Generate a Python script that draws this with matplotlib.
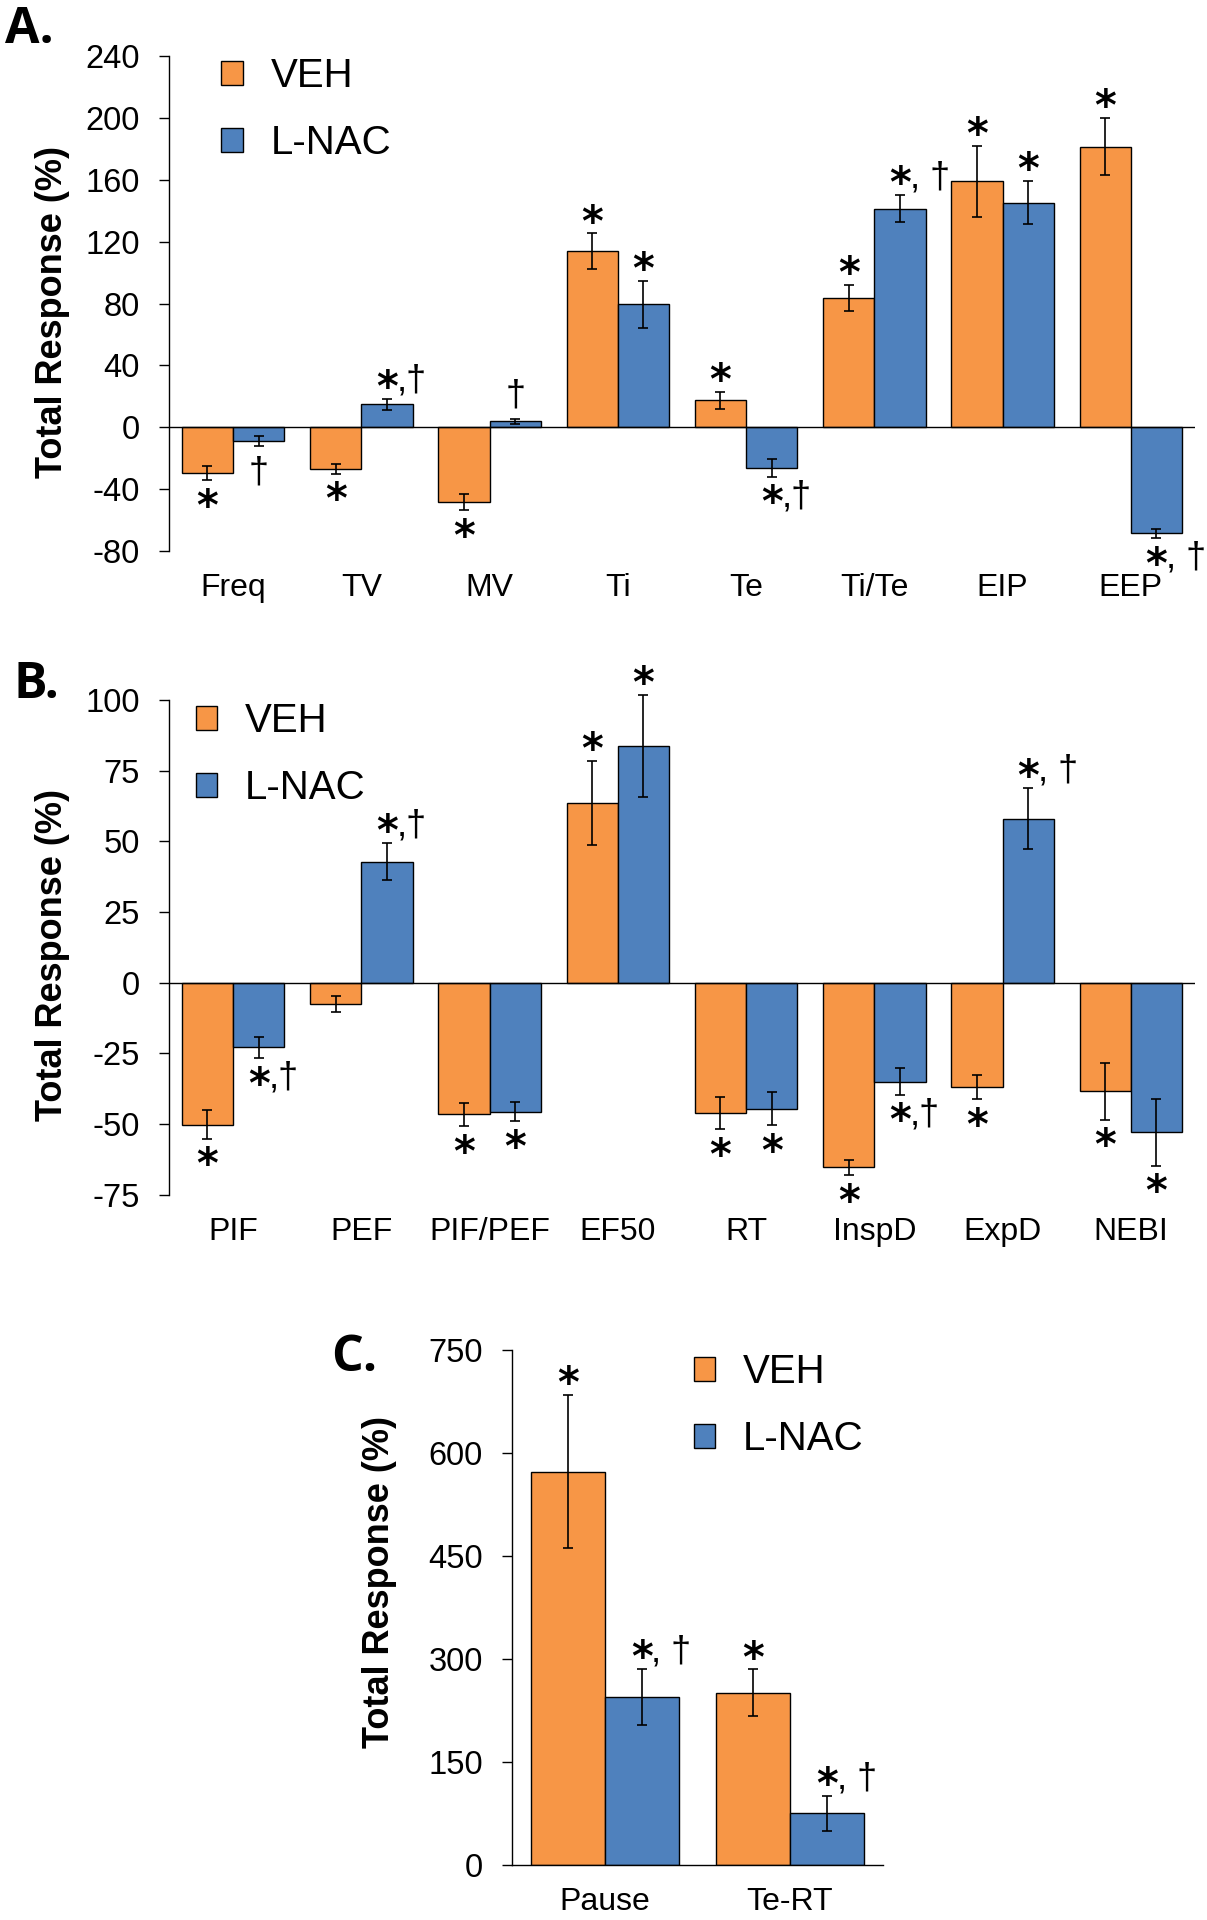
import numpy as np
import matplotlib
matplotlib.use('Agg')
import matplotlib.pyplot as plt
from matplotlib.patches import Patch

plt.rcParams['font.family'] = ['Liberation Sans', 'DejaVu Sans']
plt.rcParams['axes.unicode_minus'] = False

VEH_COLOR = '#F79646'
LNAC_COLOR = '#4F81BD'

# panel A
cats_a = ['Freq', 'TV', 'MV', 'Ti', 'Te', 'Ti/Te', 'EIP', 'EEP']
veh_a = [-29.5, -26.9, -48.2, 113.8, 17.4, 83.6, 159.2, 181.5]
veh_a_err = [4.8, 3.0, 5.4, 11.6, 5.5, 8.5, 23.0, 18.6]
lnac_a = [-9.0, 14.8, 3.8, 79.5, -26.2, 141.5, 145.4, -68.6]
lnac_a_err = [3.2, 3.8, 1.5, 15.4, 5.7, 9.0, 14.0, 3.0]
veh_a_sig = ['*', '*', '*', '*', '*', '*', '*', '*']
lnac_a_sig = ['†', '*,†', '†', '*', '*,†', '*, †', '*', '*, †']

# panel B
cats_b = ['PIF', 'PEF', 'PIF/PEF', 'EF50', 'RT', 'InspD', 'ExpD', 'NEBI']
veh_b = [-50.2, -7.5, -46.6, 63.5, -46.2, -65.4, -36.9, -38.4]
veh_b_err = [5.0, 2.8, 4.1, 15.0, 5.6, 2.8, 4.3, 10.1]
lnac_b = [-22.9, 42.8, -45.6, 83.8, -44.6, -35.0, 58.0, -53.0]
lnac_b_err = [3.8, 6.6, 3.4, 18.0, 5.9, 4.7, 10.8, 11.8]
veh_b_sig = ['*', '', '*', '*', '*', '*', '*', '*']
lnac_b_sig = ['*,†', '*,†', '*', '*', '*', '*,†', '*, †', '*']

# panel C
cats_c = ['Pause', 'Te-RT']
veh_c = [573.0, 250.8]
veh_c_err = [111.0, 34.0]
lnac_c = [244.2, 75.1]
lnac_c_err = [41.0, 25.0]
veh_c_sig = ['*', '*']
lnac_c_sig = ['*, †', '*, †']

STAR_FS = 30
SUF_FS = 26


def mark(ax, x, end, label, up):
    if not label:
        return
    if label.startswith('*'):
        c = 13.5 if up else -13.5
        ax.annotate('*', xy=(x, end), xytext=(0, c - 0.5 * STAR_FS),
                    textcoords='offset points', ha='center', va='baseline',
                    fontsize=STAR_FS, fontweight='bold', family='DejaVu Sans',
                    annotation_clip=False)
        suf = label[1:]
        if suf:
            ax.annotate(suf, xy=(x, end), xytext=(7, c - 8.0),
                        textcoords='offset points', ha='left', va='baseline',
                        fontsize=SUF_FS, annotation_clip=False)
    else:
        c = 18 if up else -18
        ax.annotate(label, xy=(x, end), xytext=(0, c - 8.0),
                    textcoords='offset points', ha='center', va='baseline',
                    fontsize=SUF_FS, annotation_clip=False)


def panel(ax, cats, veh, veh_err, lnac, lnac_err, veh_sig, lnac_sig,
          ylim, yticks, leg_xy, ylab_xy, floor_axis):
    x = np.arange(len(cats))
    w = 0.4
    for off, vals, errs, sigs, col in [(-w / 2, veh, veh_err, veh_sig, VEH_COLOR),
                                       (w / 2, lnac, lnac_err, lnac_sig, LNAC_COLOR)]:
        ax.bar(x + off, vals, w, color=col, edgecolor='black', linewidth=1.0, zorder=2)
        eb = ax.errorbar(x + off, vals, yerr=errs, fmt='none', ecolor='black',
                         elinewidth=1.2, capsize=3.5, capthick=1.2, zorder=3)
        for art in eb.get_children():
            art.set_clip_on(False)
        for xi, v, e, s in zip(x + off, vals, errs, sigs):
            up = v >= 0
            mark(ax, xi, v + e if up else v - e, s, up)

    ax.set_xlim(-0.5, len(cats) - 0.5)
    ax.set_ylim(*ylim)
    ax.set_yticks(yticks)
    ax.set_xticks(x)
    ax.set_xticklabels(cats)
    ax.spines['top'].set_visible(False)
    ax.spines['right'].set_visible(False)
    ax.spines['left'].set_linewidth(1.0)
    if floor_axis:
        ax.spines['bottom'].set_linewidth(1.0)
    else:
        ax.spines['bottom'].set_visible(False)
        ax.axhline(0, color='black', linewidth=1.0, zorder=4)
    ax.tick_params(axis='y', direction='out', length=7, width=1.0, pad=14, labelsize=23.5)
    ax.tick_params(axis='x', length=0, pad=16, labelsize=23)
    ax.set_ylabel('Total Response (%)', fontsize=26, fontweight='bold')
    ax.yaxis.set_label_coords(*ylab_xy)

    handles = [Patch(facecolor=VEH_COLOR, edgecolor='black', linewidth=1.0),
               Patch(facecolor=LNAC_COLOR, edgecolor='black', linewidth=1.0)]
    ax.legend(handles, ['VEH', 'L-NAC'], loc='upper left', bbox_to_anchor=leg_xy,
              frameon=False, fontsize=29, handlelength=0.53, handleheight=0.53,
              handletextpad=0.7, labelspacing=0.72, borderpad=0, borderaxespad=0)


fig = plt.figure(figsize=(12.07, 19.20), dpi=100)

ax_a = fig.add_axes([0.1400, 0.7130, 0.8500, 0.2577])
panel(ax_a, cats_a, veh_a, veh_a_err, lnac_a, lnac_a_err, veh_a_sig, lnac_a_sig,
      (-80, 240), np.arange(-80, 241, 40), (0.051, 0.998), (-0.096, 0.483), False)

ax_b = fig.add_axes([0.1400, 0.3778, 0.8500, 0.2577])
panel(ax_b, cats_b, veh_b, veh_b_err, lnac_b, lnac_b_err, veh_b_sig, lnac_b_sig,
      (-75, 100), np.arange(-75, 101, 25), (0.026, 0.995), (-0.096, 0.485), False)

ax_c = fig.add_axes([0.4242, 0.02865, 0.3071, 0.2682])
panel(ax_c, cats_c, veh_c, veh_c_err, lnac_c, lnac_c_err, veh_c_sig, lnac_c_sig,
      (0, 750), np.arange(0, 751, 150), (0.49, 0.994), (-0.31, 0.55), True)

for lab, xf, yf in [('A.', 0.004, 0.9776), ('B.', 0.011, 0.6365), ('C.', 0.274, 0.286)]:
    fig.text(xf, yf, lab, fontsize=36, fontweight='bold', family='Open Sans',
             ha='left', va='baseline')

fig.savefig('out.png', dpi=100)
